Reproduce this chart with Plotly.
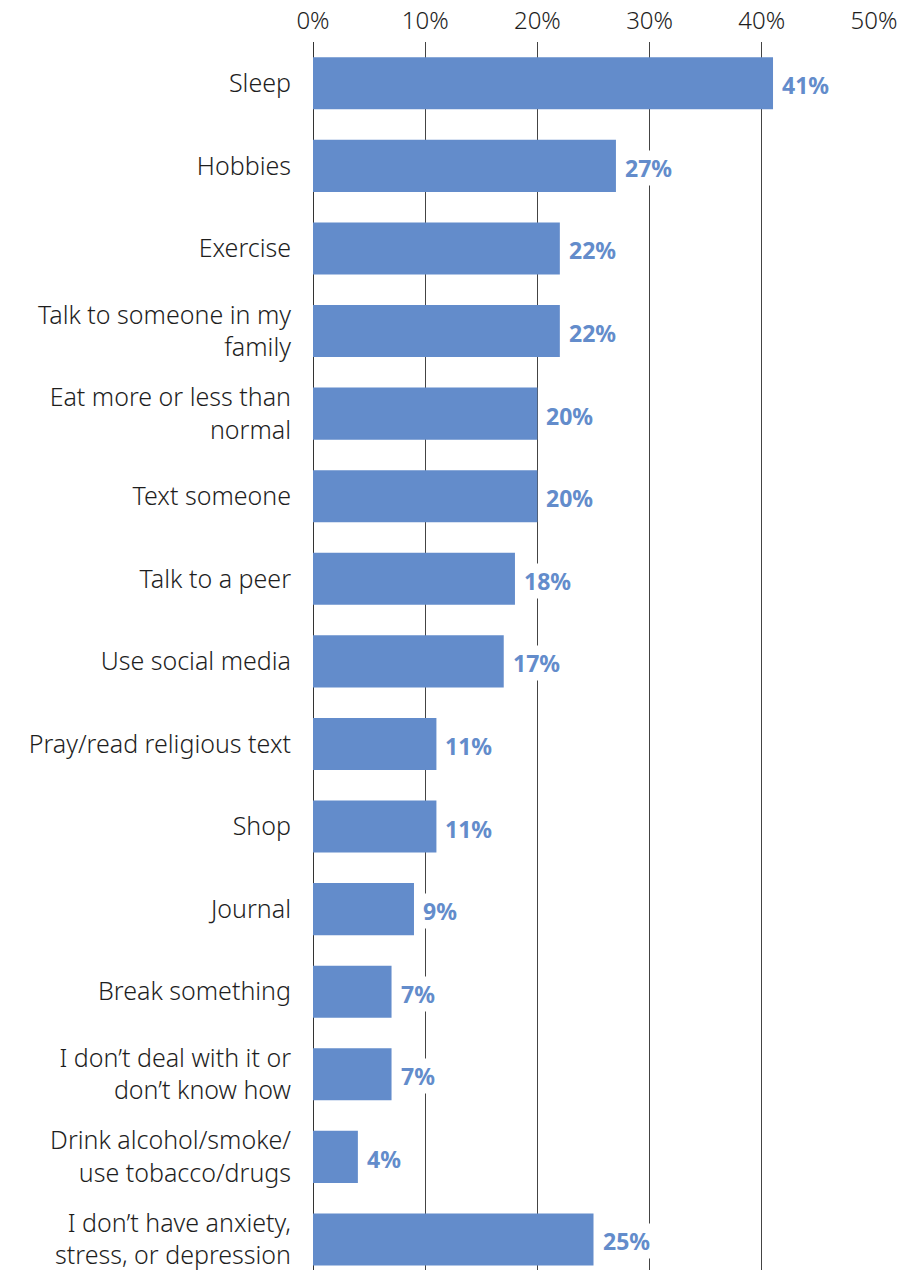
import plotly.graph_objects as go

# Coping activities and share of respondents (percent)
categories = [
    "Sleep",
    "Hobbies",
    "Exercise",
    "Talk to someone in my<br>family",
    "Eat more or less than<br>normal",
    "Text someone",
    "Talk to a peer",
    "Use social media",
    "Pray/read religious text",
    "Shop",
    "Journal",
    "Break something",
    "I don\u2019t deal with it or<br>don\u2019t know how",
    "Drink alcohol/smoke/<br>use tobacco/drugs",
    "I don\u2019t have anxiety,<br>stress, or depression",
]
values = [41, 27, 22, 22, 20, 20, 18, 17, 11, 11, 9, 7, 7, 4, 25]
x_ticks = [0, 10, 20, 30, 40, 50]

BAR = "#638ccb"
FONT = "Noto Sans"
TEXT = "#1e1e1e"

fig = go.Figure(
    go.Bar(
        x=values,
        y=categories,
        orientation="h",
        marker=dict(color=BAR, line=dict(width=0)),
        width=0.63,
        hoverinfo="skip",
    )
)

# value labels sit on a white box so gridlines break behind them
for cat, v in zip(categories, values):
    fig.add_annotation(
        x=v, y=cat, xref="x", yref="y",
        text=f"<b>{v}%</b>",
        showarrow=False, xanchor="left", yanchor="middle",
        xshift=7, yshift=-2,
        bgcolor="white", borderpad=1,
        font=dict(family=FONT, size=23, color=BAR),
    )

fig.update_layout(
    width=902, height=1270,
    margin=dict(l=313, r=28, t=42, b=0),
    paper_bgcolor="white", plot_bgcolor="white",
    showlegend=False,
    bargap=0.37,
    font=dict(family=FONT, size=24, color=TEXT),
)
fig.update_xaxes(
    side="top", range=[0, 50],
    tickvals=x_ticks, ticktext=[f"{t}%" for t in x_ticks],
    showgrid=True, gridcolor="#444", gridwidth=1,
    zeroline=True, zerolinecolor="#333", zerolinewidth=1,
    showline=False, ticks="", ticklabelstandoff=7,
    tickfont=dict(family=FONT, size=24, color=TEXT, weight=300),
    fixedrange=True,
)
fig.update_yaxes(
    type="category", categoryorder="array", categoryarray=categories,
    range=[14.37, -0.5],
    showgrid=False, zeroline=False, showline=False, ticks="",
    ticklabelstandoff=21,
    tickfont=dict(family=FONT, size=25, color=TEXT, weight=300),
    fixedrange=True,
)

fig.write_html("out.html")
